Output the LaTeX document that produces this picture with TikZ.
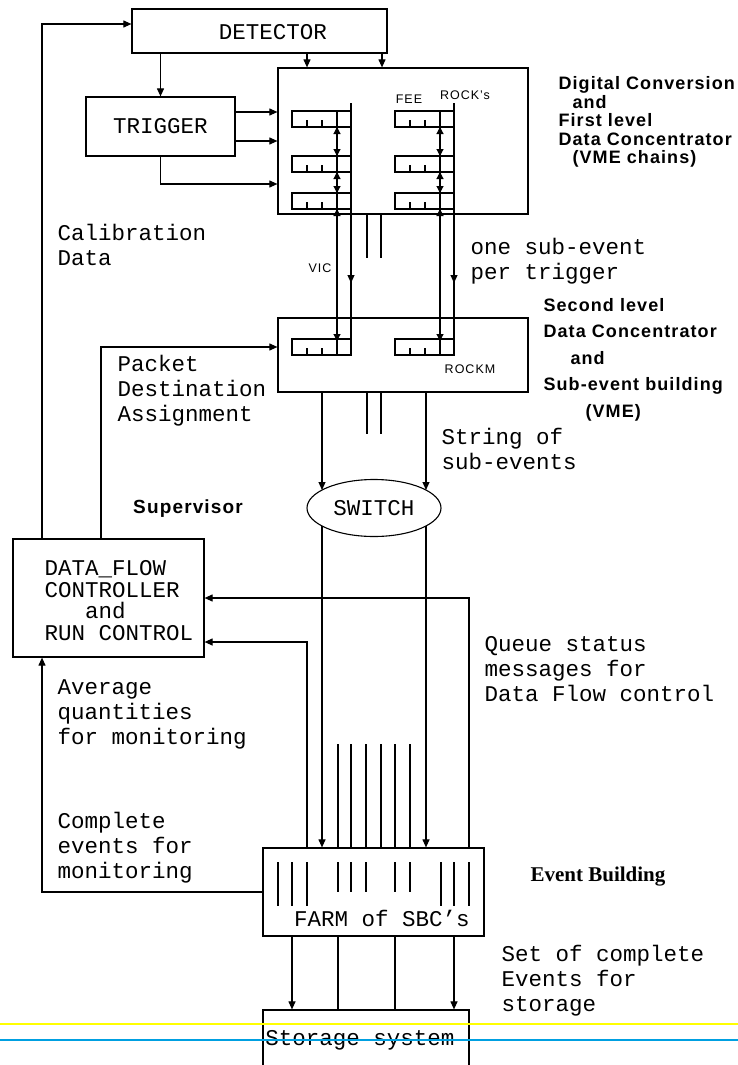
\documentclass[tikz,border=0pt]{standalone}
\usepackage{fontspec}
\setmainfont{Liberation Serif}
\newfontfamily\typefont{Liberation Mono}
\newfontfamily\headfont[LetterSpace=6]{Liberation Sans}
\newfontfamily\tagfont[LetterSpace=8]{Liberation Sans}
\usetikzlibrary{arrows.meta, shapes.geometric}

\definecolor{scanyellow}{RGB}{255,255,0}
\definecolor{scanblue}{RGB}{0,160,225}

% one register cell of a readout chain
\newcommand{\regcell}[2]{%
  \draw (#1,#2) rectangle ++(59,16);
  \foreach \k in {15,30} \draw (#1+\k,#2+16) -- ++(0,-7);
}

\begin{document}
\begin{tikzpicture}[x=1pt, y=-1pt, line width=1.1pt,
    box/.style={draw, line width=1.2pt, inner sep=0pt},
    arr/.style={-{Triangle[length=8pt,width=7pt]}},
    barr/.style={{Triangle[length=7pt,width=7pt]}-{Triangle[length=7pt,width=7pt]}},
    mono/.style={font={\typefont\fontsize{22.5}{25}\selectfont}, inner sep=0pt},
    note/.style={mono, align=left, anchor=north west},
    head/.style={font={\headfont\bfseries\fontsize{18}{18.5}\selectfont}, inner sep=0pt, align=left, anchor=north west},
    tag/.style={font={\tagfont\fontsize{12.5}{13}\selectfont}, inner sep=0pt}]

        \path[fill=white, use as bounding box] (0,0) rectangle (738,1065);
        \clip (0,0) rectangle (738,1065);

        % Boxes
        \node[box, minimum width=255, minimum height=44] (det) at (259.5,31) {};
        \node[mono] (detlbl) at (273,32) {DETECTOR};
        \node[box, mono, minimum width=149, minimum height=59] (trig) at (160.5,126.5) {TRIGGER};
        \node[box, minimum width=250, minimum height=146] (fee) at (403,141) {};
        \node[box, minimum width=250, minimum height=74] (vme) at (403,355) {};
        \node[draw, ellipse, mono, minimum width=134, minimum height=57] (switch) at (374,508) {SWITCH};
        \node[box, minimum width=191, minimum height=118] (dfc) at (108.5,598) {};
        \node[note, font={\typefont\fontsize{22.5}{21.5}\selectfont}] (dfclbl) at (44,560)
            {DATA\_FLOW\\CONTROLLER\\\phantom{DAT}and\\RUN CONTROL};
        \node[box, minimum width=221, minimum height=88] (farm) at (373.5,892) {};
        \node[mono] (farmlbl) at (382,918) {FARM of SBC’s};
        \node[box, minimum width=206, minimum height=100] (store) at (366,1060) {};
        \node[mono] (storelbl) at (360,1040) {Storage system};

        % Readout chains and buses
        \foreach \x in {292,395} {
            \foreach \y in {111,156,193} \regcell{\x}{\y};
            \regcell{\x}{339};
            \draw (\x+45,111) -- (\x+45,355);
            \draw[barr] (\x+45,127) -- (\x+45,156);
            \draw[barr] (\x+45,172) -- (\x+45,193);
            \draw[barr] (\x+45,209) -- (\x+45,341);
            \draw (\x+59,103) -- (\x+59,355);
            \draw[arr] (\x+59,103) -- (\x+59,283);
        }
        \foreach \x in {367,381} {
            \draw (\x,214) -- (\x,258);
            \draw (\x,392) -- (\x,434);
        }

        \node[tag] (feetag) at (409,99) {FEE};
        \node[tag] (rocktag) at (465,95) {ROCK’s};
        \node[tag] (victag) at (320,268) {VIC};
        \node[tag] (rockmtag) at (470,369) {ROCKM};

        % Detector and trigger
        \coordinate (tr1) at (0,112);
        \coordinate (tr2) at (0,141);
        \coordinate (tr3) at (0,184);
        \coordinate (d1) at (307,0);
        \coordinate (d2) at (382,0);
        \draw[arr] (trig.north |- det.south) -- (trig.north);
        \draw[arr] (det.south -| d1) -- (fee.north -| d1);
        \draw[arr] (det.south -| d2) -- (fee.north -| d2);
        \draw[arr] (trig.east |- tr1) -- (fee.west |- tr1);
        \draw[arr] (trig.east |- tr2) -- (fee.west |- tr2);
        \draw[arr] (trig.south) |- (fee.west |- tr3);

        % Switch
        \coordinate (s1) at (322,490);
        \coordinate (s2) at (426,490);
        \coordinate (s1b) at (322,526);
        \coordinate (s2b) at (426,526);
        \draw[arr] (vme.south -| s1) -- (s1);
        \draw[arr] (vme.south -| s2) -- (s2);
        \draw[arr] (s1b) -- (farm.north -| s1b);
        \draw[arr] (s2b) -- (farm.north -| s2b);

        % Supervisor loops
        \coordinate (cal) at (42,24);
        \coordinate (pk) at (101,347);
        \coordinate (q1) at (469,598);
        \coordinate (q2) at (307,642);
        \draw[arr] (dfc.north -| cal) |- (det.west |- cal);
        \draw[arr] (dfc.north -| pk) |- (vme.west |- pk);
        \draw[arr] (farm.west) -| (dfc.south -| cal);
        \draw[arr] (farm.north -| q1) |- (dfc.east |- q1);
        \draw[arr] (farm.north -| q2) |- (dfc.east |- q2);

        % Farm
        \foreach \x in {338,351,366,381,395,410} \draw (\x,744) -- (\x,848);
        \foreach \x/\e in {278/906,292/906,307/906,338/892,351/892,366/892,395/892,410/892,441/906,454/906,469/906}
            \draw (\x,862) -- (\x,\e);
        \foreach \x/\s in {292/arr,338/,395/,454/arr} {
            \coordinate (c) at (\x,0);
            \draw[\s] (farm.south -| c) -- (store.north -| c);
        }

        % Texts
        \node[note] (calib) at (57,224) {Calibration\\Data};
        \node[note] (subev) at (470,238) {one sub-event\\per trigger};
        \node[note] (packet) at (117,355) {Packet\\Destination\\Assignment};
        \node[note] (string) at (441,428) {String of\\sub-events};
        \node[note] (queue) at (484,636) {Queue status\\messages for\\Data Flow control};
        \node[note] (average) at (57,679) {Average\\quantities\\for monitoring};
        \node[note] (complete) at (57,812) {Complete\\events for\\monitoring};
        \node[note] (setof) at (501,945) {Set of complete\\Events for\\storage};

        \node[head] (digital) at (558,76)
            {Digital Conversion\\\hspace*{14pt}and\\First level\\Data Concentrator\\\hspace*{14pt}(VME chains)};
        \node[head, font={\headfont\bfseries\fontsize{18}{26.5}\selectfont}] (second) at (543,297.5)
            {Second level\\Data Concentrator\\\hspace*{27pt}and\\Sub-event building\\\hspace*{42pt}(VME)};
        \node[head, anchor=center, font={\headfont\bfseries\fontsize{19}{19}\selectfont}] (super) at (188,509) {Supervisor};
        \node[font={\bfseries\fontsize{21}{21}\selectfont}, inner sep=0pt] (evb) at (598,877) {Event Building};

        % Scan lines
        \draw[scanyellow, line width=1.5pt] (0,1024) -- (738,1024);
        \draw[scanblue, line width=1.5pt] (0,1040) -- (738,1040);

    \end{tikzpicture}
\end{document}
